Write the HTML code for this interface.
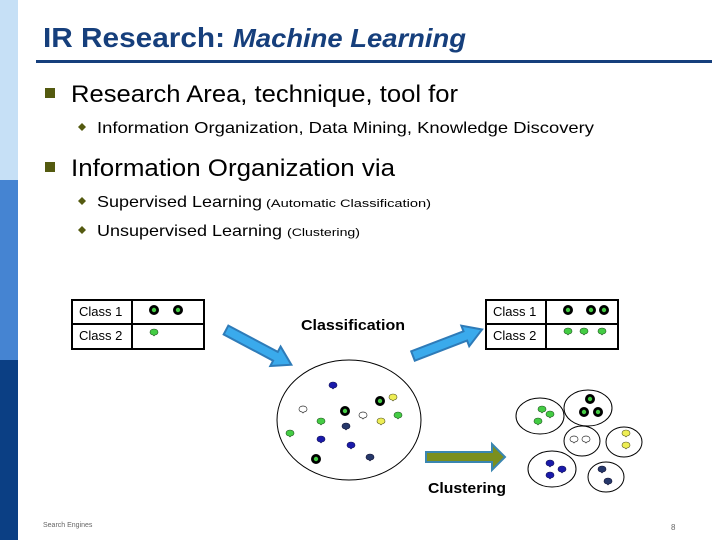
<!DOCTYPE html>
<html><head><meta charset="utf-8"><style>
html,body{margin:0;padding:0;background:#fff;}
svg{display:block;}
</style></head><body>
<svg width="720" height="540" viewBox="0 0 720 540" xmlns="http://www.w3.org/2000/svg" font-family="Liberation Sans, sans-serif">
<rect x="0" y="0" width="18" height="180" fill="#c6e0f6"/>
<rect x="0" y="180" width="18" height="180" fill="#4584d2"/>
<rect x="0" y="360" width="18" height="180" fill="#0b3f84"/>
<text x="43" y="47" font-size="28" font-weight="bold" fill="#163f7c" textLength="182" lengthAdjust="spacingAndGlyphs">IR Research:</text>
<text x="233" y="47" font-size="26" font-weight="bold" font-style="italic" fill="#163f7c" textLength="233" lengthAdjust="spacingAndGlyphs">Machine Learning</text>
<rect x="36" y="60" width="676" height="3" fill="#163f7c"/>
<rect x="45" y="88" width="10" height="10" fill="#545a10"/>
<text x="71" y="102" font-size="24" fill="#000" textLength="387" lengthAdjust="spacingAndGlyphs">Research Area, technique, tool for</text>
<path d="M78 127 l4 -4 l4 4 l-4 4z" fill="#545a10"/>
<text x="97" y="133" font-size="16" fill="#000" textLength="497" lengthAdjust="spacingAndGlyphs">Information Organization, Data Mining, Knowledge Discovery</text>
<rect x="45" y="162" width="10" height="10" fill="#545a10"/>
<text x="71" y="176" font-size="24" fill="#000" textLength="324" lengthAdjust="spacingAndGlyphs">Information Organization via</text>
<path d="M78 201 l4 -4 l4 4 l-4 4z" fill="#545a10"/>
<text x="97" y="207" font-size="16" fill="#000" textLength="165" lengthAdjust="spacingAndGlyphs">Supervised Learning</text>
<text x="266" y="207" font-size="11" fill="#000" textLength="165" lengthAdjust="spacingAndGlyphs">(Automatic Classification)</text>
<path d="M78 230 l4 -4 l4 4 l-4 4z" fill="#545a10"/>
<text x="97" y="236" font-size="16" fill="#000" textLength="185" lengthAdjust="spacingAndGlyphs">Unsupervised Learning</text>
<text x="287" y="236" font-size="11" fill="#000" textLength="73" lengthAdjust="spacingAndGlyphs">(Clustering)</text>

<defs>
<g id="ring"><circle r="5" fill="#000"/><circle r="2.2" fill="#44cc44"/></g>
<g id="g"><path d="M-4 -2 a4 3 0 0 1 8 0 a4 3 0 0 1 -3 3 l-1 1 l-1 -1 a4 3 0 0 1 -3 -3z" fill="#44cc44" stroke="#225522" stroke-width="0.6"/></g>
<g id="y"><path d="M-4 -2 a4 3 0 0 1 8 0 a4 3 0 0 1 -3 3 l-1 1 l-1 -1 a4 3 0 0 1 -3 -3z" fill="#eeee55" stroke="#555522" stroke-width="0.6"/></g>
<g id="w"><path d="M-4 -2 a4 3 0 0 1 8 0 a4 3 0 0 1 -3 3 l-1 1 l-1 -1 a4 3 0 0 1 -3 -3z" fill="#fff" stroke="#333" stroke-width="0.7"/></g>
<g id="b"><path d="M-4 -2 a4 3 0 0 1 8 0 a4 3 0 0 1 -3 3 l-1 1 l-1 -1 a4 3 0 0 1 -3 -3z" fill="#1a1aaa" stroke="#111155" stroke-width="0.6"/></g>
<g id="n"><path d="M-4 -2 a4 3 0 0 1 8 0 a4 3 0 0 1 -3 3 l-1 1 l-1 -1 a4 3 0 0 1 -3 -3z" fill="#26386a" stroke="#111133" stroke-width="0.6"/></g>
<polygon id="arr" points="0,-5 56,-5 56,-11 74,0 56,11 56,5 0,5" fill="#3aaaec" stroke="#2e7bb8" stroke-width="2"/>
</defs>

<g fill="none" stroke="#000" stroke-width="2">
<rect x="72" y="300" width="132" height="49"/><line x1="72" y1="324" x2="204" y2="324"/><line x1="132" y1="300" x2="132" y2="349"/>
<rect x="486" y="300" width="132" height="49"/><line x1="486" y1="324" x2="618" y2="324"/><line x1="546" y1="300" x2="546" y2="349"/>
</g>
<g font-size="13" fill="#000">
<text x="79" y="316">Class 1</text><text x="79" y="340">Class 2</text>
<text x="493" y="316">Class 1</text><text x="493" y="340">Class 2</text>
</g>
<use href="#ring" x="154" y="310"/><use href="#ring" x="178" y="310"/><use href="#g" x="154" y="334"/>
<use href="#ring" x="568" y="310"/><use href="#ring" x="591" y="310"/><use href="#ring" x="604" y="310"/>
<use href="#g" x="568" y="333"/><use href="#g" x="584" y="333"/><use href="#g" x="602" y="333"/>

<use href="#arr" transform="translate(226,330) rotate(28)"/>
<use href="#arr" transform="translate(413,356) rotate(-21)"/>
<text x="301" y="330" font-size="15" font-weight="bold" fill="#000" textLength="104" lengthAdjust="spacingAndGlyphs">Classification</text>

<ellipse cx="349" cy="420" rx="72" ry="60" fill="none" stroke="#000" stroke-width="1"/>
<use href="#b" x="333" y="387"/><use href="#w" x="303" y="411"/><use href="#ring" x="345" y="411"/>
<use href="#g" x="321" y="423"/><use href="#n" x="346" y="428"/><use href="#g" x="290" y="435"/>
<use href="#b" x="321" y="441"/><use href="#b" x="351" y="447"/><use href="#ring" x="316" y="459"/>
<use href="#ring" x="380" y="401"/><use href="#y" x="393" y="399"/><use href="#w" x="363" y="417"/>
<use href="#y" x="381" y="423"/><use href="#g" x="398" y="417"/><use href="#n" x="370" y="459"/>

<polygon points="426,452 492,452 492,444 505,457 492,470 492,462 426,462" fill="#7b8f1e" stroke="#3a86b0" stroke-width="2"/>
<text x="428" y="493" font-size="15" font-weight="bold" fill="#000" textLength="78" lengthAdjust="spacingAndGlyphs">Clustering</text>

<g fill="none" stroke="#000" stroke-width="1">
<ellipse cx="540" cy="416" rx="24" ry="18"/><ellipse cx="588" cy="408" rx="24" ry="18"/>
<ellipse cx="582" cy="441" rx="18" ry="15"/><ellipse cx="624" cy="442" rx="18" ry="15"/>
<ellipse cx="552" cy="469" rx="24" ry="18"/><ellipse cx="606" cy="477" rx="18" ry="15"/>
</g>
<use href="#g" x="542" y="411"/><use href="#g" x="550" y="416"/><use href="#g" x="538" y="423"/>
<use href="#ring" x="590" y="399"/><use href="#ring" x="584" y="412"/><use href="#ring" x="598" y="412"/>
<use href="#w" x="574" y="441"/><use href="#w" x="586" y="441"/>
<use href="#y" x="626" y="435"/><use href="#y" x="626" y="447"/>
<use href="#b" x="550" y="465"/><use href="#b" x="562" y="471"/><use href="#b" x="550" y="477"/>
<use href="#n" x="602" y="471"/><use href="#n" x="608" y="483"/>

<text x="43" y="527" font-size="7" fill="#666">Search Engines</text>
<text x="671" y="530" font-size="8" fill="#666">8</text>
</svg>
</body></html>
